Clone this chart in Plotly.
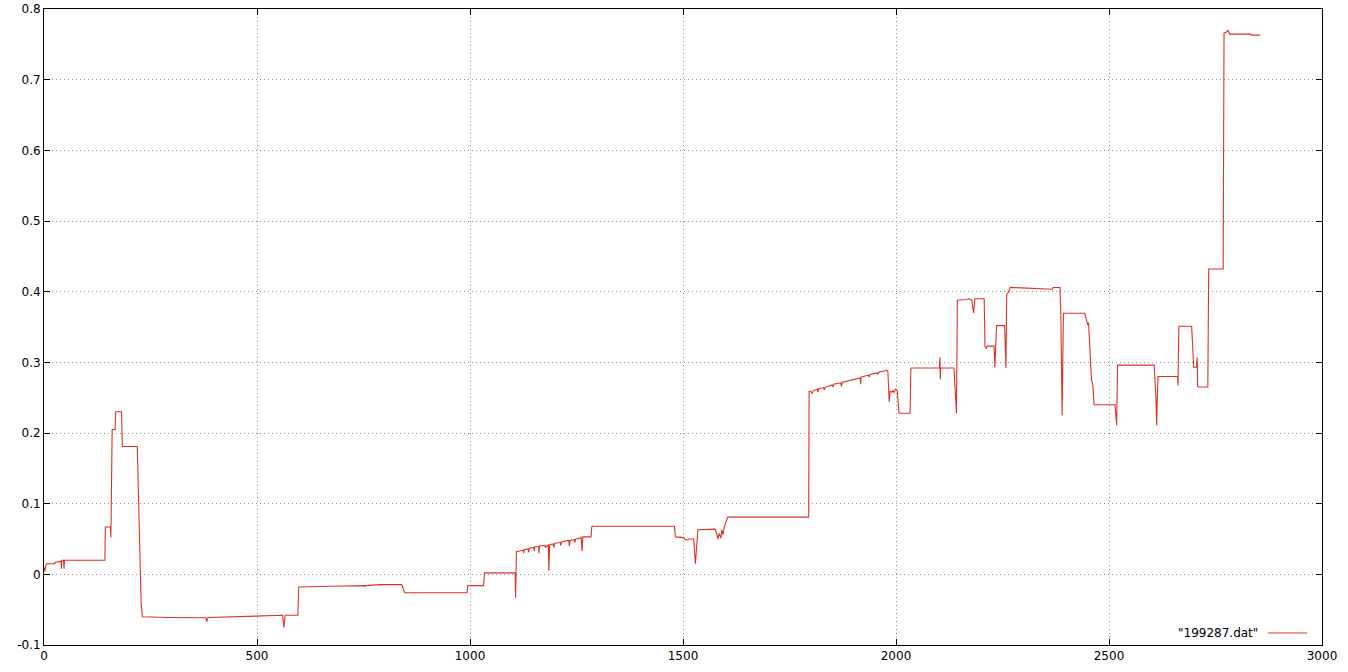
import plotly.graph_objects as go

# Series "199287.dat"
x_values = [
    0, 2, 4, 6, 25, 26, 38, 40, 41, 42, 46, 47, 48, 143, 144, 156, 157, 160, 167, 168, 182, 184, 219, 224, 226, 228, 231,
    288, 290, 380, 382, 385, 560, 563, 566, 596, 598, 700, 752, 753, 754, 789, 790, 791, 840, 844, 847, 993, 995, 1032, 1034,
    1106, 1107, 1109,
    1125, 1126, 1127, 1137, 1138, 1139, 1150, 1151, 1152, 1161, 1162, 1163, 1176, 1177, 1184, 1185, 1187,
    1195, 1197, 1199, 1212, 1213, 1215, 1232, 1233, 1235, 1245, 1246, 1248, 1259, 1261, 1263, 1265, 1284, 1286,
    1480, 1482, 1502, 1504, 1512, 1514, 1525, 1529, 1535, 1576, 1582, 1585, 1589, 1591, 1594, 1597, 1601, 1605, 1795, 1796,
    1800, 1803, 1806, 1815, 1817, 1819, 1830, 1832, 1834, 1850, 1852, 1854, 1870, 1872, 1874, 1890, 1900, 1916, 1917, 1918,
    1935, 1937, 1939, 1955, 1957, 1959, 1975, 1978, 1981, 1984, 1986, 1990, 1993, 1995, 1999, 2003, 2007, 2033, 2035,
    2102, 2103, 2104, 2105, 2136, 2138, 2142, 2144,
    2158, 2165, 2171, 2178, 2182, 2185, 2207, 2209, 2212, 2214, 2230, 2232, 2236, 2255, 2258, 2260, 2265, 2268, 2367, 2369,
    2385, 2387, 2390, 2393, 2443, 2448, 2450, 2452, 2459, 2462, 2465, 2514, 2518, 2520, 2606, 2610, 2612, 2613, 2615, 2661,
    2662, 2664, 2694, 2699, 2703, 2705, 2707, 2708, 2711, 2732, 2734, 2768, 2770, 2775, 2779, 2783, 2833, 2835, 2855,
]
y_values = [
    0.010, 0.004, 0.012, 0.015, 0.015, 0.017, 0.018, 0.019, 0.008, 0.020, 0.020, 0.008, 0.020, 0.020, 0.067, 0.067, 0.052, 0.205, 0.205, 0.230, 0.230, 0.181, 0.181, 0.060, -0.020, -0.040, -0.060,
    -0.060, -0.061, -0.0615, -0.067, -0.061, -0.058, -0.075, -0.058, -0.058, -0.018, -0.0165, -0.016, -0.0175, -0.016, -0.0145, -0.016, -0.0145, -0.0145, -0.022, -0.026, -0.026, -0.016, -0.016, 0.002,
    0.002, -0.033, 0.032,
    0.034, 0.030, 0.035, 0.036, 0.031, 0.037, 0.038, 0.033, 0.039, 0.039, 0.030, 0.040, 0.041, 0.038, 0.042, 0.005, 0.042,
    0.043, 0.038, 0.044, 0.045, 0.041, 0.046, 0.048, 0.040, 0.048, 0.049, 0.045, 0.050, 0.051, 0.053, 0.033, 0.053, 0.053, 0.068,
    0.068, 0.053, 0.052, 0.049, 0.049, 0.050, 0.050, 0.015, 0.063, 0.064, 0.050, 0.058, 0.051, 0.063, 0.056, 0.068, 0.074, 0.081, 0.081, 0.259,
    0.259, 0.256, 0.260, 0.262, 0.258, 0.263, 0.264, 0.261, 0.265, 0.268, 0.265, 0.269, 0.271, 0.266, 0.272, 0.274, 0.276, 0.278, 0.269, 0.279,
    0.282, 0.279, 0.283, 0.285, 0.283, 0.286, 0.288, 0.289, 0.287, 0.244, 0.259, 0.258, 0.260, 0.257, 0.262, 0.260, 0.228, 0.228, 0.292,
    0.292, 0.307, 0.276, 0.292, 0.292, 0.275, 0.228, 0.388,
    0.388, 0.389, 0.390, 0.388, 0.370, 0.390, 0.390, 0.322, 0.320, 0.323, 0.323, 0.293, 0.352, 0.352, 0.292, 0.396, 0.400, 0.406, 0.4035, 0.406,
    0.406, 0.3695, 0.225, 0.3695, 0.3695, 0.358, 0.353, 0.356, 0.275, 0.268, 0.240, 0.240, 0.211, 0.296, 0.296, 0.252, 0.211, 0.240, 0.280, 0.280,
    0.267, 0.351, 0.351, 0.293, 0.293, 0.293, 0.307, 0.266, 0.265, 0.265, 0.432, 0.432, 0.766, 0.767, 0.770, 0.7645, 0.7645, 0.763, 0.763,
]

x_ticks = [0, 500, 1000, 1500, 2000, 2500, 3000]
x_tick_labels = ["0", "500", "1000", "1500", "2000", "2500", "3000"]
y_ticks = [-0.1, 0, 0.1, 0.2, 0.3, 0.4, 0.5, 0.6, 0.7, 0.8]
y_tick_labels = ["-0.1", "0", "0.1", "0.2", "0.3", "0.4", "0.5", "0.6", "0.7", "0.8"]
series_name = '"199287.dat"'

LINE_COLOR = "#dd3322"
FONT = dict(family="DejaVu Sans, Liberation Sans, sans-serif", size=12, color="black")

fig = go.Figure()
fig.add_trace(go.Scatter(x=x_values, y=y_values, mode="lines",
                         line=dict(color=LINE_COLOR, width=1.1), name=series_name,
                         showlegend=False))

axis_common = dict(
    showline=True, linecolor="black", linewidth=1, mirror="ticks",
    ticks="inside", ticklen=6, tickwidth=1, tickcolor="black",
    showgrid=True, gridcolor="#909090", gridwidth=1, griddash="1px,3px",
    zeroline=False, tickfont=FONT, automargin=False,
)
fig.update_xaxes(range=[0, 3000], tickvals=x_ticks, ticktext=x_tick_labels, **axis_common)
fig.update_yaxes(range=[-0.1, 0.8], tickvals=y_ticks, ticktext=y_tick_labels, **axis_common)

# gnuplot-style key: text followed by a line sample, inside bottom-right
fig.add_annotation(xref="paper", yref="paper", x=0.9515, y=0.0189, text=series_name,
                   showarrow=False, xanchor="right", yanchor="middle", font=FONT)
fig.add_shape(type="line", xref="paper", yref="paper", x0=0.9577, x1=0.9883, y0=0.0189, y1=0.0189,
              line=dict(color=LINE_COLOR, width=1))

fig.update_layout(
    width=1348, height=672,
    margin=dict(l=44, r=26, t=9, b=27, autoexpand=False),
    paper_bgcolor="white", plot_bgcolor="white",
    font=FONT,
)

fig.write_html("out.html", config={"displayModeBar": False},
               post_script="document.body.style.margin='0';document.body.style.overflow='hidden';")
